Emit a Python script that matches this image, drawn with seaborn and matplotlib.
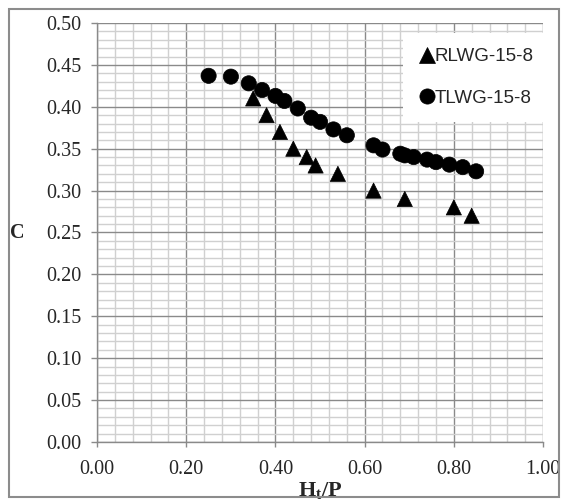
import numpy as np
import pandas as pd
import matplotlib
matplotlib.use("Agg")
import matplotlib.pyplot as plt
from matplotlib.ticker import MultipleLocator, FormatStrFormatter
from matplotlib.patches import Rectangle
import seaborn as sns

rlwg_x = [0.35, 0.38, 0.41, 0.44, 0.47, 0.49, 0.54, 0.62, 0.69, 0.80, 0.84]
rlwg_c = [0.41, 0.39, 0.37, 0.35, 0.34, 0.33, 0.32, 0.30, 0.29, 0.28, 0.27]

tlwg_x = [0.25, 0.30, 0.34, 0.37, 0.40, 0.42, 0.45, 0.48, 0.50, 0.53, 0.56,
          0.62, 0.64, 0.68, 0.69, 0.71, 0.74, 0.76, 0.79, 0.82, 0.85]
tlwg_c = [0.437, 0.436, 0.428, 0.420, 0.413, 0.407, 0.398, 0.387, 0.382, 0.373, 0.366,
          0.354, 0.349, 0.344, 0.342, 0.340, 0.337, 0.334, 0.331, 0.328, 0.323]

series_names = ["RLWG-15-8", "TLWG-15-8"]

df = pd.concat([
    pd.DataFrame({"Ht/P": rlwg_x, "C": rlwg_c, "series": series_names[0]}),
    pd.DataFrame({"Ht/P": tlwg_x, "C": tlwg_c, "series": series_names[1]}),
])

sns.set_style("white")
plt.rcParams["font.family"] = ["Liberation Serif", "DejaVu Serif"]
plt.rcParams["mathtext.fontset"] = "custom"
plt.rcParams["mathtext.bf"] = "Liberation Serif:bold"
plt.rcParams["mathtext.it"] = "Liberation Serif:italic"
plt.rcParams["mathtext.rm"] = "Liberation Serif"

fig = plt.figure(figsize=(5.68, 5.0), dpi=100)
ax = fig.add_axes([0.171, 0.116, 0.785, 0.838])

# grey frame around the whole chart area
fig.patches.append(Rectangle((0.016, 0.006), 0.968, 0.976, transform=fig.transFigure,
                             fill=False, edgecolor="#8c8c8c", linewidth=1.5))

ax.set_xlim(0, 1.0)
ax.set_ylim(0, 0.5)
ax.xaxis.set_major_locator(MultipleLocator(0.2))
ax.xaxis.set_minor_locator(MultipleLocator(0.04))
ax.yaxis.set_major_locator(MultipleLocator(0.05))
ax.yaxis.set_minor_locator(MultipleLocator(0.01))
ax.xaxis.set_major_formatter(FormatStrFormatter("%.2f"))
ax.yaxis.set_major_formatter(FormatStrFormatter("%.2f"))
ax.set_axisbelow(True)
ax.grid(which="minor", color="#d0d0d0", linewidth=1.0)
ax.grid(which="major", color="#8a8a8a", linewidth=1.0)

sns.scatterplot(data=df, x="Ht/P", y="C", style="series", hue="series",
                palette={series_names[0]: "black", series_names[1]: "black"},
                markers={series_names[0]: "^", series_names[1]: "o"},
                s=120, edgecolor="black", linewidth=0.5, ax=ax, zorder=3,
                clip_on=False)

for sp in ["top", "right"]:
    ax.spines[sp].set_visible(False)
for sp in ["left", "bottom"]:
    ax.spines[sp].set_color("#8a8a8a")
    ax.spines[sp].set_linewidth(1.0)

ax.tick_params(axis="x", which="major", direction="out", length=3.8, width=1,
               color="#8a8a8a", labelsize=14.5, pad=9, bottom=True)
ax.tick_params(axis="y", which="major", direction="out", length=4.2, width=1,
               color="#8a8a8a", labelsize=14.5, pad=7, left=True)
ax.tick_params(which="minor", length=0)

ax.set_xlabel(r"$\mathbf{H_t/P}$", fontsize=16)
ax.xaxis.set_label_coords(0.5, -0.09)
ax.set_ylabel("C", fontsize=14.5, fontweight="bold", rotation=0, va="center", ha="center")
ax.yaxis.set_label_coords(-0.178, 0.5)

leg = ax.legend(loc="upper left", bbox_to_anchor=(0.685, 0.976), frameon=True,
                fancybox=False, framealpha=1, edgecolor="white",
                prop={"family": "Liberation Sans", "size": 13.5},
                handletextpad=-0.1, handlelength=1.0, labelspacing=1.3,
                borderpad=0.8, borderaxespad=0, markerscale=1.0)
leg.get_frame().set_linewidth(0)

fig.savefig("out.png", dpi=100)
